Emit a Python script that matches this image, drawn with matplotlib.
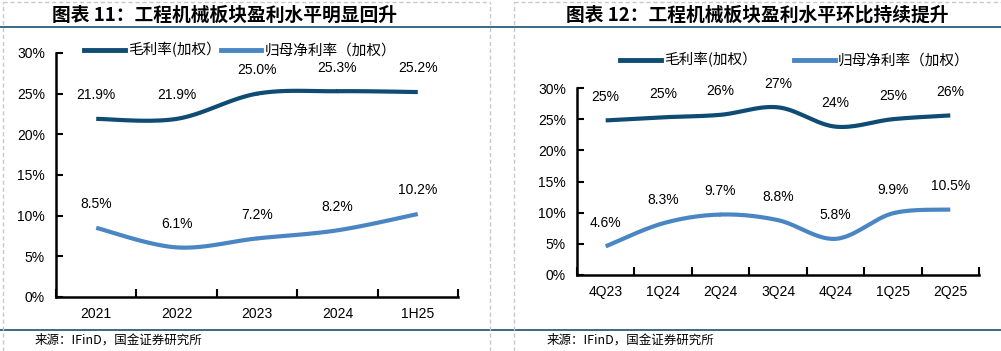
import matplotlib
matplotlib.use('Agg')
import matplotlib.pyplot as plt
from matplotlib.lines import Line2D
import numpy as np

plt.rcParams['font.family'] = ['Liberation Sans', 'Noto Sans CJK SC', 'DejaVu Sans']

# chart 11 data
years = ['2021', '2022', '2023', '2024', '1H25']
gross_y = [21.9, 21.9, 25.0, 25.3, 25.2]
net_y = [8.5, 6.1, 7.2, 8.2, 10.2]

# chart 12 data
quarters = ['4Q23', '1Q24', '2Q24', '3Q24', '4Q24', '1Q25', '2Q25']
gross_q = [24.8, 25.3, 25.7, 26.9, 23.8, 25.0, 25.6]
net_q = [4.6, 8.3, 9.7, 8.8, 5.8, 9.9, 10.5]

titles = ['图表 11：工程机械板块盈利水平明显回升', '图表 12：工程机械板块盈利水平环比持续提升']
source = '来源：IFinD，国金证券研究所'
names = ['毛利率(加权）', '归母净利率（加权）']

dark = '#0E4C74'
light = '#4A86C4'
cjk = ['Noto Sans CJK SC', 'DejaVu Sans']


def smooth(y, n=30):
    # catmull-rom curve through the points, like excel's smoothed line
    y = np.asarray(y, float)
    x = np.arange(len(y), dtype=float)
    p = np.vstack([x, y]).T
    p = np.vstack([p[0], p, p[-1]])
    out = []
    for i in range(1, len(p) - 2):
        p0, p1, p2, p3 = p[i - 1], p[i], p[i + 1], p[i + 2]
        t = np.linspace(0, 1, n)[:, None]
        seg = 0.5 * ((2 * p1) + (-p0 + p2) * t + (2 * p0 - 5 * p1 + 4 * p2 - p3) * t ** 2
                     + (-p0 + 3 * p1 - 3 * p2 + p3) * t ** 3)
        out.append(seg)
    out = np.vstack(out)
    return out[:, 0], out[:, 1]


fig = plt.figure(figsize=(10.01, 3.51), dpi=100)


def panel(rect, cats, g, n, gfmt, nfmt):
    ax = fig.add_axes(rect)
    for vals, c, fmt in [(g, dark, gfmt), (n, light, nfmt)]:
        sx, sy = smooth(vals)
        ax.plot(sx, sy / 100, color=c, lw=3, solid_capstyle='butt')
        for i, v in enumerate(vals):
            ax.annotate(fmt.format(v) + '%', (i, v / 100), xytext=(0, 17),
                        textcoords='offset points', ha='center', va='center', fontsize=10)
    ax.set_xlim(-0.5, len(cats) - 0.5)
    ax.set_ylim(0, 0.30)
    ax.set_yticks(np.arange(0, 0.31, 0.05))
    ax.set_yticklabels(['%d%%' % round(v * 100) for v in np.arange(0, 0.31, 0.05)])
    ax.set_xticks(np.arange(len(cats) + 1) - 0.5)
    ax.set_xticklabels([])
    ax.set_xticks(np.arange(len(cats)), minor=True)
    ax.set_xticklabels(cats, minor=True)
    ax.tick_params(axis='x', which='minor', length=0, pad=7, labelsize=10)
    ax.tick_params(axis='x', which='major', direction='in', length=6, width=1.5)
    ax.tick_params(axis='y', direction='in', length=5, width=1.5, labelsize=10, pad=8)
    for s in ['top', 'right']:
        ax.spines[s].set_visible(False)
    for s in ['left', 'bottom']:
        ax.spines[s].set_linewidth(1.8)
    return ax


panel([56 / 1001, 1 - 297 / 351, 402 / 1001, 244 / 351], years, gross_y, net_y, '{:.1f}', '{:.1f}')
panel([577 / 1001, 1 - 275 / 351, 402 / 1001, 187 / 351], quarters, gross_q, net_q, '{:.0f}', '{:.1f}')

# legends
handles = [Line2D([], [], color=dark, lw=3.5), Line2D([], [], color=light, lw=3.5)]
for x0, y0, cs in [(84 / 1001, 1 - 50 / 351, 0.0), (620 / 1001, 1 - 60 / 351, 2.6)]:
    fig.legend(handles, names, loc='center left', bbox_to_anchor=(x0, y0), ncol=2,
               frameon=False, handlelength=2.8, handletextpad=0.2, columnspacing=cs,
               borderpad=0, borderaxespad=0, prop={'family': cjk, 'size': 10.5})

# titles, rules, source
fig.text(225 / 1001, 1 - 15 / 351, titles[0], ha='center', va='center', fontsize=13.5,
         fontweight='bold', style='italic', family=cjk)
fig.text(757 / 1001, 1 - 15 / 351, titles[1], ha='center', va='center', fontsize=13.5,
         fontweight='bold', style='italic', family=cjk)
for yy in [27, 330]:
    fig.add_artist(Line2D([0, 1], [1 - yy / 351] * 2, color='#1B4F72', lw=1.2))
for xx in [3, 490, 514]:
    fig.add_artist(Line2D([xx / 1001] * 2, [0, 1 - 2 / 351], color='#C8C8C8', lw=1, ls=(0, (3, 2))))
fig.add_artist(Line2D([3 / 1001, 490 / 1001], [1 - 2 / 351] * 2, color='#C8C8C8', lw=1, ls=(0, (3, 2))))
fig.add_artist(Line2D([514 / 1001, 1], [1 - 2 / 351] * 2, color='#C8C8C8', lw=1, ls=(0, (3, 2))))
fig.text(35 / 1001, 1 - 340 / 351, source, ha='left', va='center', fontsize=9, family=cjk)
fig.text(547 / 1001, 1 - 340 / 351, source, ha='left', va='center', fontsize=9, family=cjk)

fig.savefig('out.png', dpi=100)
